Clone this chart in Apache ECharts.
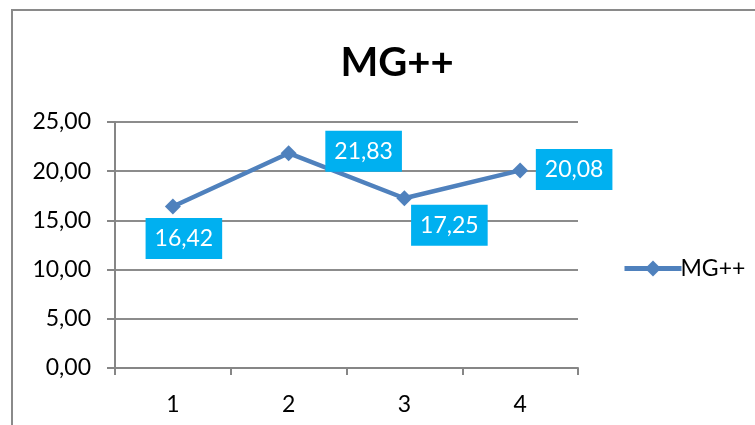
<!DOCTYPE html>
<html>
<head>
<meta charset="utf-8">
<script src="https://cdn.jsdelivr.net/npm/echarts@6/dist/echarts.min.js"></script>
<style>
  html, body { margin: 0; padding: 0; background: #fff; }
  #chart { width: 755px; height: 425px; }
</style>
</head>
<body>
<div id="chart"></div>
<script>
// Series and axis content
const categories = ['1', '2', '3', '4'];
const seriesName = 'MG++';
const values = [16.42, 21.83, 17.25, 20.08];
const yTicks = [0, 5, 10, 15, 20, 25];

// Where each value box sits relative to its point (px)
const labelOffsets = [[11, 32], [75, -2], [45, 27], [54, -1]];

const fmt = v => v.toFixed(2).replace('.', ',');
const FONT = 'Lato, "Open Sans", sans-serif';

const chart = echarts.init(document.getElementById('chart'), null, { renderer: 'canvas' });

chart.setOption({
  animation: false,
  backgroundColor: '#fff',
  graphic: [{
    type: 'rect',
    shape: { x: 12, y: 10, width: 800, height: 450 },
    style: { fill: 'none', stroke: '#8a8a8a', lineWidth: 2 },
    silent: true
  }],
  title: {
    text: seriesName,
    left: 392,
    top: 38,
    textAlign: 'center',
    textStyle: { fontFamily: FONT, fontSize: 40, fontWeight: 'bold', color: '#000' }
  },
  legend: {
    left: 617,
    top: 252,
    itemWidth: 57,
    itemHeight: 20,
    itemGap: 4,
    lineStyle: { width: 5 },
    textStyle: { fontFamily: FONT, fontSize: 23, color: '#000', padding: [0, 0, 0, -6] },
    data: [seriesName]
  },
  grid: { left: 115, right: 177, top: 122, bottom: 57, containLabel: false },
  xAxis: {
    type: 'category',
    data: categories,
    boundaryGap: true,
    axisLine: { show: true, lineStyle: { color: '#868686', width: 2 } },
    axisTick: { show: true, length: 7, inside: false, lineStyle: { color: '#868686', width: 2 } },
    axisLabel: { fontFamily: FONT, fontSize: 23, color: '#000', margin: 25 },
    splitLine: { show: false }
  },
  yAxis: {
    type: 'value',
    min: yTicks[0],
    max: yTicks[yTicks.length - 1],
    interval: yTicks[1] - yTicks[0],
    axisLine: { show: true, lineStyle: { color: '#868686', width: 2 } },
    axisTick: { show: true, length: 8, lineStyle: { color: '#868686', width: 2 } },
    axisLabel: { fontFamily: FONT, fontSize: 23, color: '#000', margin: 24, formatter: v => fmt(v) },
    splitLine: { show: true, lineStyle: { color: '#8c8c8c', width: 2 } }
  },
  series: [{
    name: seriesName,
    type: 'line',
    data: values.map((v, i) => ({
      value: v,
      label: { offset: labelOffsets[i] }
    })),
    symbol: 'diamond',
    symbolSize: 16,
    itemStyle: { color: '#4F81BD' },
    lineStyle: { color: '#4F81BD', width: 4.5 },
    label: {
      show: true,
      position: 'inside',
      formatter: p => fmt(p.value),
      backgroundColor: '#00B0F0',
      color: '#fff',
      fontFamily: FONT,
      fontSize: 23,
      lineHeight: 27,
      padding: [7, 9, 7, 9]
    },
    z: 3
  }]
});
</script>
</body>
</html>
